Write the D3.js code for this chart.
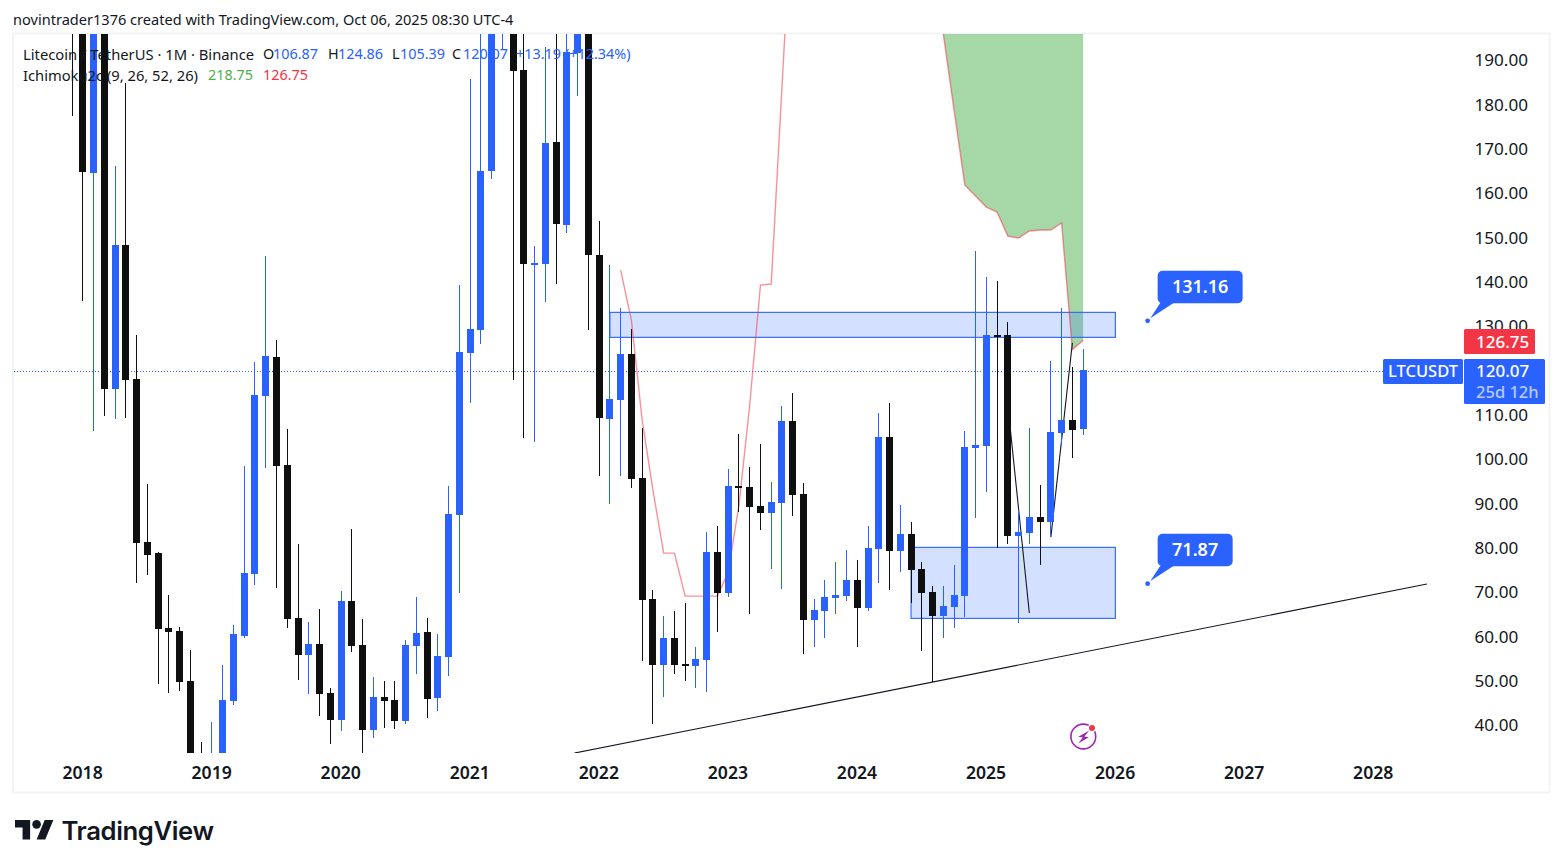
<!DOCTYPE html>
<html><head><meta charset="utf-8">
<style>html,body{margin:0;padding:0;background:#fff;overflow:hidden}svg{display:block}text{font-family:"Noto Sans",sans-serif}</style>
<script src="https://cdn.jsdelivr.net/npm/d3@7"></script></head><body><svg id="c" width="1563" height="868"></svg>
<script>
// Monthly candles: first entry is Dec 2017, index -1 (months since Jan 2018)
const firstMonth = -1;
const opens = [290,232,164.57,225,115.78,148.26,118.04,81.26,78.78,61.86,61.19,49.91,31.5,31,32,45.39,60.06,74.04,114.2,123,98.63,64.12,55.78,58.26,47.2,41.11,67.96,58.03,38.85,46.3,45.62,40.89,57.81,60.96,46.08,55.32,87.35,123.9,129.09,164.96,230,255,187.74,143.98,143.98,171.5,152.77,191.57,220,146.01,109.01,113.3,123.68,95.7,68.41,53.52,59.61,53.74,53.29,54.64,79.01,69.76,93.9,93.67,89.39,87.81,90.06,108.56,92.09,63.67,65.7,68.63,69.08,72.69,66.38,79.69,104.95,79.24,83.07,75.17,69.98,64.57,66.6,69.08,102.47,102.92,127.96,127.96,82.62,83.3,86.91,85.78,105.85,108.78,106.87];
const highs = [420,260,250,240,166.08,184.81,127.96,94.35,79.01,69.31,62.09,56.9,36.15,40.66,53.52,62.54,98.41,121.87,145.78,126.83,106.76,80.81,63.22,66.15,48.33,70.21,84.2,63.89,50.81,49.91,49.91,59.16,68.86,64.12,60.51,93.9,139.24,185.71,245,250,300,300,230,148.04,192.9,230,205,240,235,153.68,143.75,134.05,129.31,106.98,70.44,64.57,65.7,67.5,57.58,83.52,84.87,97.73,105.63,98.18,103.37,94.8,111.94,114.88,94.58,68.41,72.69,76.75,79.46,77.2,84.87,110.37,112.62,89.61,85.78,76.75,71.34,71.34,76.07,106.3,146.91,141.04,140.14,130.9,88.48,106.98,94.12,122.1,134.05,120.74,124.86];
const lows = [177.4,135.63,106.3,109.69,109.01,109.24,72.02,73.82,49.23,47.2,47.65,28,23,29,30,44.49,59.61,71.57,97.96,70.89,61.86,50.13,46.98,42.01,35.69,38.63,56.45,30,37.05,39.31,39.08,40.21,51.49,41.56,43.14,51.04,69.76,112.62,125.93,163.15,192.25,117.81,104.73,103.82,135.4,139.46,150.97,181.87,129.09,96.15,89.84,96.15,93.44,54.42,40.21,46.3,51.49,49.91,48.33,47.43,60.96,68.86,88.03,65.02,83.97,75.17,70.66,87.13,56,57.58,59.61,65.02,67.96,57.58,65.7,72.02,70.44,74.5,67.5,56.68,49.68,59.61,61.86,64.35,86.68,92.55,79.91,80.81,63,80.81,76.07,82.39,103.15,100.21,105.39];
const closes = [232,164.73,225,115.78,148.26,117.81,81.04,78.33,61.64,60.96,49.68,31.5,31,32,45.62,60.51,74.27,114.43,123.22,98.41,63.89,55.78,58.26,46.98,41.11,67.96,57.81,38.85,46.3,45.39,40.89,58.03,60.74,45.85,55.55,87.58,124.13,129.31,164.96,230,255,187.51,143.98,144.2,171.27,152.98,191.8,220,146.01,109.24,113.52,123.68,95.48,68.18,53.52,59.61,53.52,53.29,54.87,79.01,69.76,93.9,93.6,89.16,87.81,90.29,108.56,91.87,63.67,65.92,68.86,69.31,72.69,66.38,79.91,104.95,79.24,83.07,74.95,69.76,64.57,66.83,69.31,102.7,103.15,127.96,127.6,82.62,83.52,86.91,85.78,106.08,108.78,106.53,120.07];
// Ichimoku cloud edges
const spanBStart = 50;
const spanB = [142.62,131.34,108.79,93,78.78,78.78,69.08,69.08,69.08,69.08,74.5,89.61,112.17,139.24,139.46,183.9,228,228,228,240,240,240,240,240,240,240,240,225,225,212.7,195.9,178.72,161.8,159.32,156.83,155.71,150.29,149.84,151.42,151.65,151.65,153.23,124.69,126.75];
const spanAStart = 79;
const spanA = [300,300,300,290,290,280,280,270,260,250,240,235,230,225,218.75];
// Axis ticks
const priceTicks = [190,180,170,160,150,140,130,110,100,90,80,70,60,50,40];
const years = [2018,2019,2020,2021,2022,2023,2024,2025,2026,2027,2028];
// Drawings: [month index, price]
const zones = [[49,96,133.08,127.44],[77,96,80.07,64.05]];
const trendLine = [[45.7,33.66],[124.97,71.79]];
const swing1 = [[86,112.2],[88,65.25]];
const swing2 = [[90,82.39],[92,126.2]];
const callouts = [[99,131.16,"131.16",85],[99,71.87,"71.87",75]];
const lastPrice = 120.07, spanLast = 126.75, symbol = "LTCUSDT", countdown = "25d 12h";

const BLUE="#2962ff", INK="#0f0f0f", TXT="#131722", RED="#f23645", GREEN="#4caf50";
const x = d3.scaleLinear().domain([0,96]).range([82.9,1115.38]);
const y = d3.scaleLinear().domain([190,40]).range([60,725]);
const svg = d3.select("#c");
svg.append("defs").append("clipPath").attr("id","plot").append("rect").attr("x",14).attr("y",34).attr("width",1535).attr("height",719);

// Frame
svg.append("rect").attr("x",13).attr("y",33.5).attr("width",1536.5).attr("height",759).attr("fill","none").attr("stroke","#f2f3f5").attr("stroke-width",2);

const plot = svg.append("g").attr("clip-path","url(#plot)");

// Cloud
const cloud = spanA.map((a,k)=>({i:spanAStart+k,a,b:spanB[spanAStart-spanBStart+k]}));
plot.append("path").datum(cloud).attr("fill",GREEN).attr("fill-opacity",.5)
  .attr("d",d3.area().x(d=>x(d.i)).y0(d=>y(d.a)).y1(d=>y(d.b)));
plot.append("path").datum(spanA.map((v,k)=>[spanAStart+k,v])).attr("fill","none").attr("stroke",GREEN)
  .attr("d",d3.line().x(d=>x(d[0])).y(d=>y(d[1])));

// Zones
plot.selectAll("rect.zone").data(zones).join("rect").attr("class","zone")
  .attr("x",d=>x(d[0])).attr("width",d=>x(d[1])-x(d[0]))
  .attr("y",d=>y(d[2])).attr("height",d=>y(d[3])-y(d[2]))
  .attr("fill",BLUE).attr("fill-opacity",.2).attr("stroke",BLUE).attr("stroke-width",1.1);

// Span B line
plot.append("path").datum(spanB.map((v,k)=>[spanBStart+k,v])).attr("fill","none").attr("stroke",RED).attr("stroke-opacity",.55).attr("stroke-width",1.4)
  .attr("d",d3.line().x(d=>x(d[0])).y(d=>y(d[1])));

// Hand-drawn lines
const ln = d3.line().x(d=>x(d[0])).y(d=>y(d[1]));
[trendLine,swing1,swing2].forEach(l=>plot.append("path").datum(l).attr("fill","none").attr("stroke","#131722").attr("stroke-width",1.1).attr("d",ln));

// Last-price line
plot.append("line").attr("x1",14).attr("x2",1383).attr("y1",371.5).attr("y2",371.5).attr("stroke",BLUE).attr("stroke-dasharray","1 2");

// Candles
const candles = opens.map((o,k)=>({i:firstMonth+k,o,h:highs[k],l:lows[k],c:closes[k]}));
const col = d=>d.c>=d.o?BLUE:INK;
const g = plot.selectAll("g.candle").data(candles).join("g").attr("class","candle");
g.append("rect").attr("x",d=>Math.floor(x(d.i))).attr("width",1)
  .attr("y",d=>Math.round(y(d.h))).attr("height",d=>Math.round(y(d.l))-Math.round(y(d.h))).attr("fill",col);
g.append("rect").attr("x",d=>Math.floor(x(d.i))-3).attr("width",7)
  .attr("y",d=>Math.round(y(Math.max(d.o,d.c))))
  .attr("height",d=>Math.max(2,Math.round(y(Math.min(d.o,d.c)))-Math.round(y(Math.max(d.o,d.c))))).attr("fill",col);

// Axes
const ya = svg.append("g").attr("transform","translate(1465.5,0.3)")
  .call(d3.axisRight(y).tickValues(priceTicks).tickFormat(d3.format(".2f")).tickSize(0).tickPadding(9));
ya.select(".domain").remove();
ya.selectAll("text").attr("font-size",17.1).attr("fill",TXT).style("font-family",'"Noto Sans",sans-serif');
const xa = svg.append("g").attr("transform","translate(-0.8,753)")
  .call(d3.axisBottom(x).tickValues(years.map((d,k)=>k*12)).tickFormat((d,k)=>String(years[k])).tickSize(0).tickPadding(14));
xa.select(".domain").remove();
xa.selectAll("text").attr("font-size",17.6).attr("font-weight",600).attr("fill",TXT).style("font-family",'"Noto Sans",sans-serif');

// Price tags
const tag=(x0,y0,w,h,f)=>svg.append("rect").attr("x",x0).attr("y",y0).attr("width",w).attr("height",h).attr("fill",f).attr("rx",1.5);
tag(1464,329,71,25,RED);
tag(1383,359,80,25,BLUE);
tag(1464,359,81,45,BLUE);
const t=(s,x0,y0,size,fill,w,anchor)=>svg.append("text").text(s).attr("x",x0).attr("y",y0).attr("font-size",size).attr("fill",fill)
  .attr("font-weight",w||400).attr("text-anchor",anchor||"start").attr("dominant-baseline","central");
t(d3.format(".2f")(spanLast),1476,341,17,"#fff",500);
t(symbol,1388,370.5,16.5,"#fff",500);
t(d3.format(".2f")(lastPrice),1476,370.5,17,"#fff",500);
t(countdown,1476,391,16.5,"#b9caff",500);

// Callouts
callouts.forEach(([i,p,label,w])=>{
  const cx=x(i), cy=y(p);
  svg.append("circle").attr("cx",cx).attr("cy",cy).attr("r",2.4).attr("fill",BLUE);
  svg.append("rect").attr("x",cx+10).attr("y",cy-50).attr("width",w).attr("height",32.5).attr("rx",5).attr("fill",BLUE);
  svg.append("path").attr("d",`M${cx+2.7} ${cy-2.6}L${cx+12.7} ${cy-18}L${cx+26.2} ${cy-18}Z`).attr("fill",BLUE);
  t(label,cx+10+w/2,cy-34.5,18,"#fff",600,"middle");
});

// Flash icon
const fi = svg.append("g").attr("transform","translate(1083.3,736.5)");
fi.append("circle").attr("r",12.4).attr("fill","#fff").attr("stroke","#9c27b0").attr("stroke-width",1.6);
fi.append("path").attr("d","M6 -6L-5 0.3L-0.5 0.9L-5 7L5.5 0.7L1 0Z").attr("fill","#9c27b0");
fi.append("circle").attr("cx",8.7).attr("cy",-8.5).attr("r",4.4).attr("fill","#fff");
fi.append("circle").attr("cx",8.7).attr("cy",-8.5).attr("r",3).attr("fill",RED);

// Header and legend (over candles)
t("novintrader1376 created with TradingView.com, Oct 06, 2025 08:30 UTC-4",13,19,14.57,TXT);
t("Litecoin / TetherUS · 1M · Binance",23,53.5,14.78,TXT);
[["O",263,TXT],["106.87",273,BLUE],["H",328,TXT],["124.86",338,BLUE],["L",392,TXT],["105.39",400,BLUE],["C",452,TXT],["120.07",463,BLUE],["+13.19",516,BLUE],["(+12.34%)",565,BLUE]]
  .forEach(([s,xx,f])=>t(s,xx,53.5,14.4,f));
t("Ichimoku2c (9, 26, 52, 26)",23,74.5,14.72,TXT);
t("218.75",208,74.5,14.4,GREEN);
t("126.75",263,74.5,14.4,RED);

// TradingView logo
const logo = svg.append("g").attr("transform","translate(15,815.7) scale(1.08)");
logo.append("path").attr("d","M14 22H7V11H0V4h14v18zM28 22h-8l7.5-18h8L28 22z").attr("fill","#131722");
logo.append("circle").attr("cx",20).attr("cy",8).attr("r",4).attr("fill","#131722");
svg.append("text").text("TradingView").attr("x",61.5).attr("y",840).attr("font-size",25.7).attr("font-weight",600).attr("fill","#131722").style("font-family","Inter,sans-serif").style("letter-spacing","-0.4px");
</script></body></html>
